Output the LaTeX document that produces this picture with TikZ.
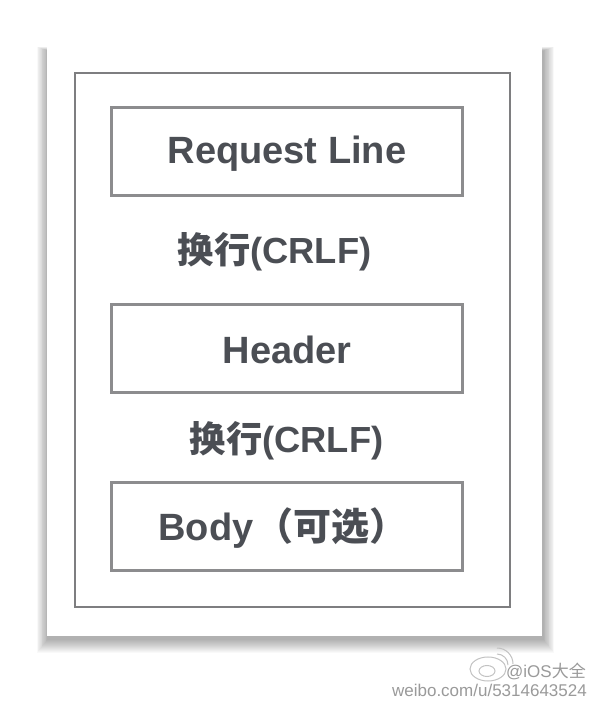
\documentclass[tikz,border=0pt]{standalone}
\usepackage{fontspec}
\setmainfont{Liberation Sans}
\newfontfamily\cjk{Noto Sans CJK SC}
\definecolor{txt}{HTML}{4B4E54}
\definecolor{frame}{HTML}{8C8C8E}
\definecolor{wm}{HTML}{9A9A9A}
\tikzset{
  boxrect/.style={draw=frame, line width=3pt},
  outerrect/.style={draw=frame!90!black, line width=2.4pt},
  lbl/.style={text=txt, font=\fontsize{38}{40}\selectfont\bfseries, inner sep=0pt},
  crlf/.style={text=txt, font=\fontsize{36.3}{38}\selectfont\bfseries, inner sep=0pt},
  wmtext/.style={text=wm, font=\fontsize{17}{19}\selectfont, inner sep=0pt}
}
\begin{document}
\begin{tikzpicture}[x=1pt,y=1pt]
\useasboundingbox (0,0) rectangle (592,706);
\fill[white] (0,0) rectangle (592,706);
% shadow
\foreach \i in {1,...,14} {
  \fill[black, opacity=0.024] (47-\i*0.8+1,70-\i*1.0-3) rectangle (542+\i*0.8+1,661+\i*0.3-6);
}
% card
\fill[white] (47,70) rectangle (542,661);
% outer frame
\draw[outerrect] (75,99) rectangle (510,633);
% boxes
\node[boxrect, minimum width=351pt, minimum height=88pt, inner sep=0pt] (req) at (286.5,554) {};
\node[boxrect, minimum width=351pt, minimum height=88pt, inner sep=0pt] (hdr) at (286.5,357) {};
\node[boxrect, minimum width=351pt, minimum height=88pt, inner sep=0pt] (body) at (286.5,179) {};
% labels
\node[lbl] (reqt) at (287,552) {Request Line};
\node[crlf] (crlf1) at (274.5,454) {{\cjk\bfseries 换行}(CRLF)};
\node[lbl] (hdrt) at (287,356) {Header};
\node[crlf] (crlf2) at (286.5,265) {{\cjk\bfseries 换行}(CRLF)};
\node[lbl] (bodyt) at (283,178) {Body\hspace{2pt}{\cjk\bfseries （可选）}};
% watermark
\draw[wm!60, line width=1pt] (488,37) ellipse (18pt and 12pt);
\draw[wm!60, line width=1pt] (487,35) ellipse (8pt and 5.5pt);
\draw[wm!60, line width=1pt] (497,52) arc (90:0:11pt);
\draw[wm!60, line width=1pt] (497,58) arc (90:0:16pt);
\node[wmtext, anchor=east] (wm1) at (586,35) {@iOS{\cjk 大全}};
\node[wmtext, anchor=east] (wm2) at (587,16) {weibo.com/u/5314643524};
\end{tikzpicture}
\end{document}
